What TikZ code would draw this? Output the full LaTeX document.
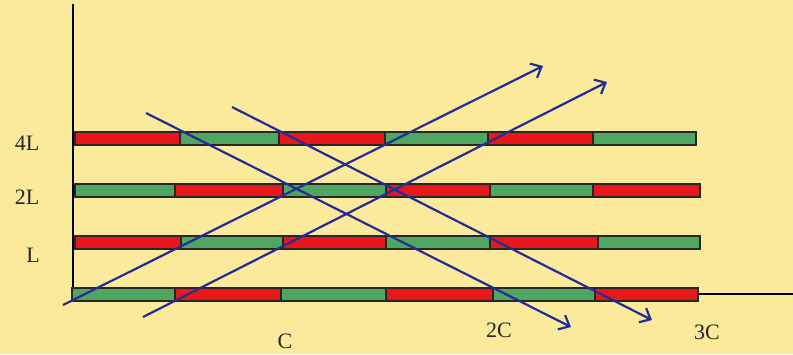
\documentclass[tikz,border=0pt]{standalone}
\usepackage{fontspec}
\setmainfont{Liberation Serif}
\usetikzlibrary{arrows.meta}
\definecolor{bg}{RGB}{251,234,155}
\definecolor{barred}{RGB}{232,24,26}
\definecolor{bargreen}{RGB}{78,166,96}
\definecolor{lineblue}{RGB}{36,44,150}
\tikzset{
  seg/.style={draw=black!85, line width=1.3pt},
  redseg/.style={seg, fill=barred},
  greenseg/.style={seg, fill=bargreen},
  axisline/.style={draw=black, line width=2pt},
  wave/.style={draw=lineblue, line width=2.2pt, -{Straight Barb[length=9pt,width=16pt,line width=2.2pt]}},
  lbl/.style={font=\fontsize{22}{25}\selectfont, text=black!85, inner sep=0pt}
}
\begin{document}
\begin{tikzpicture}[x=1pt,y=-1pt]
\fill[bg] (0,0) rectangle (793,354);
\useasboundingbox (0,0) rectangle (793,354);
% axes
\coordinate (axtop) at (73,4);
\coordinate (origin) at (73,294);
\coordinate (axright) at (793,294);
\draw[axisline] (axtop) -- (origin);
\draw[axisline, line width=1.5pt] (origin) -- (axright);
% rows: 4L
\foreach \a/\b/\c in {75/180/redseg,180/279/greenseg,279/385/redseg,385/488/greenseg,488/593/redseg,593/696/greenseg}
  \path[\c] (\a,132) rectangle (\b,145);
% 2L
\foreach \a/\b/\c in {75/175/greenseg,175/283/redseg,283/386/greenseg,386/490/redseg,490/593/greenseg,593/700/redseg}
  \path[\c] (\a,184) rectangle (\b,197);
% L
\foreach \a/\b/\c in {75/181/redseg,181/283/greenseg,283/386/redseg,386/490/greenseg,490/598/redseg,598/700/greenseg}
  \path[\c] (\a,236) rectangle (\b,249);
% 0
\foreach \a/\b/\c in {72/175/greenseg,175/281/redseg,281/386/greenseg,386/493/redseg,493/595/greenseg,595/698/redseg}
  \path[\c] (\a,288) rectangle (\b,301);
% wave lines
\coordinate (u1s) at (63,305);
\coordinate (u1e) at (543,66);
\coordinate (u2s) at (143,317);
\coordinate (u2e) at (607,82);
\coordinate (d1s) at (146,113);
\coordinate (d1e) at (571,327);
\coordinate (d2s) at (232,107);
\coordinate (d2e) at (652,320);
\draw[wave] (u1s) -- (u1e);
\draw[wave] (u2s) -- (u2e);
\draw[wave] (d1s) -- (d1e);
\draw[wave] (d2s) -- (d2e);
% labels
\node[lbl] (l4) at (27,143) {4L};
\node[lbl] (l2) at (27,197) {2L};
\node[lbl] (l1) at (33,255) {L};
\node[lbl] (c1) at (285,341) {C};
\node[lbl] (c2) at (499,330) {2C};
\node[lbl] (c3) at (707,332) {3C};
\end{tikzpicture}
\end{document}
